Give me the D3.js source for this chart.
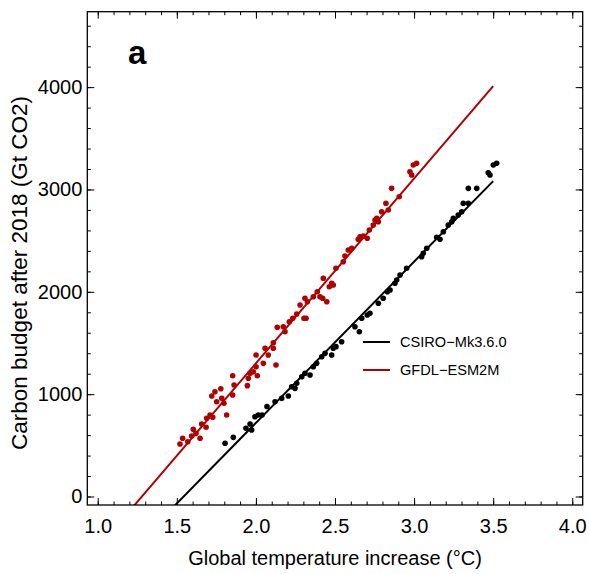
<!DOCTYPE html>
<html><head><meta charset="utf-8">
<script src="https://cdn.jsdelivr.net/npm/d3@7"></script>
<style>body{margin:0;background:#fff}svg{display:block;font-family:"Liberation Sans",Arial,sans-serif}</style>
</head><body><svg width="589" height="574"></svg>
<script>
// ---- data ----
const seriesNames = ["CSIRO\u2212Mk3.6.0", "GFDL\u2212ESM2M"];
const seriesColors = ["#000000", "#b00000"];

const csiroTemp = [1.805,1.857,1.937,1.963,1.973,1.994,2.015,2.039,2.07,2.121,2.163,2.205,2.226,2.247,2.258,2.290,2.310,2.342,2.363,2.384,2.416,2.437,2.479,2.489,2.506,2.542,2.626,2.654,2.669,2.704,2.721,2.774,2.805,2.831,2.848,2.879,2.890,2.911,2.953,3.048,3.058,3.080,3.143,3.164,3.185,3.216,3.238,3.248,3.279,3.301,3.311,3.343,3.343,3.396,3.469,3.480,3.501,3.522];
const csiroBudget = [520,578,666,708,650,780,796,796,880,926,959,982,1073,1057,1106,1170,1204,1187,1268,1301,1366,1399,1383,1448,1464,1512,1659,1610,1741,1773,1790,1888,1937,2001,2018,2083,2115,2164,2230,2343,2376,2425,2533,2513,2587,2653,2685,2718,2750,2783,2865,2865,3011,3011,3164,3141,3239,3256];

const gfdlTemp = [1.520,1.537,1.569,1.594,1.604,1.621,1.647,1.657,1.685,1.689,1.710,1.727,1.721,1.741,1.752,1.778,1.784,1.798,1.815,1.853,1.862,1.853,1.946,1.952,1.963,1.984,2.001,2.009,2.001,2.047,2.058,2.078,2.110,2.110,2.127,2.135,2.173,2.184,2.211,2.258,2.279,2.233,2.304,2.317,2.310,2.325,2.363,2.388,2.405,2.422,2.448,2.426,2.464,2.479,2.489,2.506,2.552,2.563,2.584,2.606,2.647,2.658,2.679,2.704,2.717,2.742,2.753,2.764,2.774,2.795,2.822,2.837,2.858,2.906,2.974,2.985,2.995,3.016];
const gfdlBudget = [513,569,535,591,657,617,569,708,676,764,796,774,982,1024,926,1053,959,911,796,1180,1089,992,1083,1155,1204,1219,1268,1180,1383,1301,1448,1383,1448,1503,1285,1653,1659,1610,1708,1783,1871,1741,1741,1741,1937,1903,1952,2001,1952,1937,1903,2132,2050,2083,2066,2230,2294,2350,2408,2425,2513,2538,2545,2523,2604,2653,2702,2718,2685,2783,2865,2799,3011,2929,3173,3141,3239,3256];

const fitSlope = [1575, 1806];
const fitIntercept = [-2430.5, -2310.4];
const fitEnd = 3.5;

const xMajorTicks = [1.0,1.5,2.0,2.5,3.0,3.5,4.0];
const xMinorTicks = d3.range(10,41).map(d=>d/10);
const yMajorTicks = [0,1000,2000,3000,4000];
const yMinorTicks = d3.range(0,4601,200);

// ---- layout ----
const L=87.3, R=582.7, T=11.7, B=505;
const svg = d3.select("svg");
const x = d3.scaleLinear().domain([0.934,4.066]).range([L,R]);
const y = d3.scaleLinear().domain([-83,4737]).range([B,T]);

const fs = 20;
function styleAxis(g){ g.select(".domain").remove(); g.selectAll("line").attr("stroke","#000").attr("stroke-width",1); g.selectAll("text").attr("font-size",fs).attr("fill","#000").attr("font-family","Liberation Sans, Arial, sans-serif"); }

// minor ticks
svg.append("g").attr("transform",`translate(0,${B})`).call(d3.axisBottom(x).tickValues(xMinorTicks).tickSize(-3.5).tickFormat("")).call(styleAxis);
svg.append("g").attr("transform",`translate(0,${T})`).call(d3.axisTop(x).tickValues(xMinorTicks).tickSize(-3.5).tickFormat("")).call(styleAxis);
svg.append("g").attr("transform",`translate(${L},0)`).call(d3.axisLeft(y).tickValues(yMinorTicks).tickSize(-3.5).tickFormat("")).call(styleAxis);
svg.append("g").attr("transform",`translate(${R},0)`).call(d3.axisRight(y).tickValues(yMinorTicks).tickSize(-3.5).tickFormat("")).call(styleAxis);
// major ticks
svg.append("g").attr("transform",`translate(0,${B})`).call(d3.axisBottom(x).tickValues(xMajorTicks).tickSize(-7).tickPadding(13.5).tickFormat(d3.format(".1f"))).call(styleAxis);
svg.append("g").attr("transform",`translate(0,${T})`).call(d3.axisTop(x).tickValues(xMajorTicks).tickSize(-7).tickFormat("")).call(styleAxis);
svg.append("g").attr("transform",`translate(${L},0)`).call(d3.axisLeft(y).tickValues(yMajorTicks).tickSize(-7).tickPadding(5).tickFormat(d3.format("d"))).call(styleAxis);
svg.append("g").attr("transform",`translate(${R},0)`).call(d3.axisRight(y).tickValues(yMajorTicks).tickSize(-7).tickFormat("")).call(styleAxis);

// clip
svg.append("clipPath").attr("id","plotclip").append("rect").attr("x",L).attr("y",T).attr("width",R-L).attr("height",B-T);
const plot = svg.append("g").attr("clip-path","url(#plotclip)");

const datasets = [
  d3.zip(csiroTemp, csiroBudget),
  d3.zip(gfdlTemp, gfdlBudget)
];
datasets.forEach((pts,i)=>{
  plot.append("g").selectAll("circle").data(pts).join("circle")
    .attr("cx",d=>x(d[0])).attr("cy",d=>y(d[1])).attr("r",2.8).attr("fill",seriesColors[i]);
});
// fit lines
[0,1].forEach(i=>{
  const x0 = 1.0;
  const line = d3.line().x(d=>x(d[0])).y(d=>y(d[1]));
  plot.append("path").attr("d", line([[x0, fitSlope[i]*x0+fitIntercept[i]],[fitEnd, fitSlope[i]*fitEnd+fitIntercept[i]]]))
    .attr("stroke",seriesColors[i]).attr("stroke-width",2).attr("fill","none");
});

// frame
svg.append("rect").attr("x",L).attr("y",T).attr("width",R-L).attr("height",B-T).attr("fill","none").attr("stroke","#000").attr("stroke-width",1.3);

// panel label
svg.append("text").attr("x",128).attr("y",64).attr("font-size",33).attr("font-weight","bold").attr("font-family","Liberation Sans, Arial, sans-serif").text("a");

// legend
seriesNames.forEach((n,i)=>{
  const ly = 342 + i*28;
  svg.append("line").attr("x1",363).attr("x2",390).attr("y1",ly).attr("y2",ly).attr("stroke",seriesColors[i]).attr("stroke-width",2);
  svg.append("text").attr("x",400).attr("y",ly).attr("dy","0.35em").attr("font-size",14.6).text(n);
});

// axis titles
svg.append("text").attr("x",(L+R)/2).attr("y",565).attr("text-anchor","middle").attr("font-size",fs).text("Global temperature increase (\u00B0C)");
svg.append("text").attr("transform",`translate(27,273) rotate(-90)`).attr("text-anchor","middle").attr("font-size",22.5).text("Carbon budget after 2018 (Gt CO2)");
</script></body></html>
